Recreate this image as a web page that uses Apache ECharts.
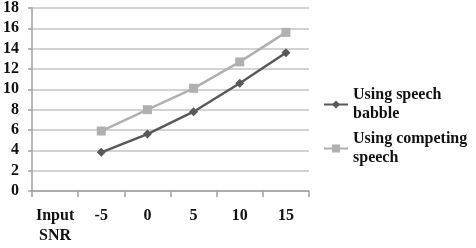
<!DOCTYPE html>
<html><head><meta charset="utf-8">
<script src="https://cdn.jsdelivr.net/npm/echarts@6/dist/echarts.min.js"></script>
<style>html,body{margin:0;padding:0;background:#fff}#c{width:476px;height:248px}</style>
</head><body><div id="c"></div>
<script>
const categories = ['Input\nSNR', '-5', '0', '5', '10', '15'];
const babble = [null, 3.8, 5.6, 7.8, 10.6, 13.6];
const competing = [null, 5.9, 8.0, 10.1, 12.7, 15.6];
const seriesNames = ['Using speech\nbabble', 'Using competing\nspeech'];
const font = 'Liberation Serif';
const chart = echarts.init(document.getElementById('c'));
chart.setOption({
  animation: false,
  grid: {left: 26, right: 167, top: 7, bottom: 57},
  xAxis: {
    type: 'category', data: categories, boundaryGap: true,
    axisLine: {lineStyle: {color: '#a0a0a0', width: 1.5}},
    axisTick: {show: true, length: 6, interval: 0, lineStyle: {color: '#a0a0a0', width: 1.5}},
    axisLabel: {interval: 0, margin: 15, fontFamily: font, fontWeight: 'bold', fontSize: 16, color: '#111', lineHeight: 20}
  },
  yAxis: {
    type: 'value', min: 0, max: 18, interval: 2,
    axisLine: {show: true, lineStyle: {color: '#a0a0a0', width: 1.5}},
    axisTick: {show: true, length: 4, lineStyle: {color: '#a0a0a0', width: 1.5}},
    splitLine: {lineStyle: {color: '#c4c4c4', width: 1.5}},
    axisLabel: {margin: 13, fontFamily: font, fontWeight: 'bold', fontSize: 16, color: '#111'}
  },
  legend: {
    orient: 'vertical', left: 318, top: 71, itemWidth: 24, itemHeight: 10, itemGap: -13,
    data: seriesNames,
    textStyle: {fontFamily: font, fontWeight: 'bold', fontSize: 16, color: '#111', lineHeight: 19, padding: [19, 0, 0, 0]}
  },
  series: [
    {name: seriesNames[0], type: 'line', data: babble, symbol: 'diamond', symbolSize: 9,
     lineStyle: {color: '#595959', width: 2.5}, itemStyle: {color: '#595959'}},
    {name: seriesNames[1], type: 'line', data: competing, symbol: 'rect', symbolSize: 9,
     lineStyle: {color: '#b0b0b0', width: 2.5}, itemStyle: {color: '#b0b0b0'}}
  ]
});
</script></body></html>
